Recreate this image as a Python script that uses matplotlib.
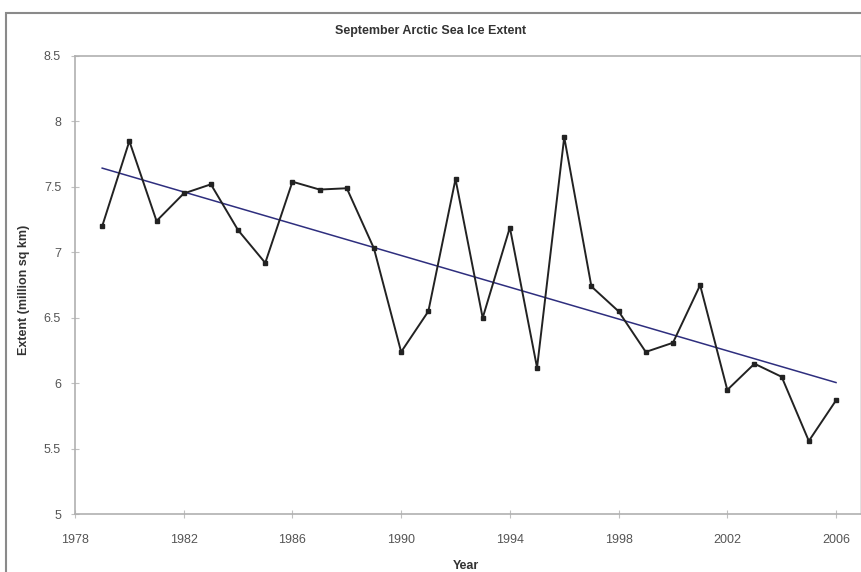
import numpy as np
import matplotlib
matplotlib.use('Agg')
import matplotlib.pyplot as plt
from matplotlib.patches import Rectangle

plt.rcParams['font.family'] = ['Liberation Sans', 'DejaVu Sans']

# September extent, million sq km
years = list(range(1979, 2007))
extent = [7.20, 7.85, 7.24, 7.45, 7.52, 7.17, 6.92, 7.54, 7.48, 7.49,
          7.03, 6.24, 6.55, 7.56, 6.50, 7.19, 6.12, 7.88, 6.74, 6.55,
          6.24, 6.31, 6.75, 5.95, 6.15, 6.05, 5.56, 5.87]
x_ticks = [1978, 1982, 1986, 1990, 1994, 1998, 2002, 2006]
y_ticks = [5, 5.5, 6, 6.5, 7, 7.5, 8, 8.5]
y_labels = ['5', '5.5', '6', '6.5', '7', '7.5', '8', '8.5']

fig = plt.figure(figsize=(8.62, 5.72), dpi=100)
ax = fig.add_axes([75 / 862, 57.7 / 572, 786 / 862, 458.3 / 572])

# linear trendline like excel
coef = np.polyfit(years, extent, 1)
trend = np.polyval(coef, years)
ax.plot(years, trend, color='#2e2e7e', lw=1.1, zorder=2)
ax.plot(years, extent, color='#222222', lw=1.4, marker='s', ms=2.8, zorder=3)

ax.set_xlim(1978, 2006 + (861 - 836) / 27.2)
ax.set_ylim(5, 8.5)
ax.set_xticks(x_ticks)
ax.set_yticks(y_ticks)
ax.set_yticklabels(y_labels)
ax.tick_params(axis='both', labelsize=9, colors='#c0c0c0', labelcolor='#555555',
               length=6, width=0.8, direction='inout')
ax.tick_params(axis='x', pad=11)
ax.tick_params(axis='y', pad=7)
for s in ax.spines.values():
    s.set_color('#b0b0b0')
    s.set_linewidth(1.2)
ax.spines['right'].set_color('#dddddd')

fig.text(0.5, 1 - 31 / 572, 'September Arctic Sea Ice Extent', ha='center', va='center',
         fontsize=9, fontweight='bold', color='#333333')
fig.text(24 / 862, 1 - 290 / 572, 'Extent (million sq km)', rotation=90, ha='center',
         va='center', fontsize=9, fontweight='bold', color='#333333')
fig.text(466 / 862, 1 - 566 / 572, 'Year', ha='center', va='center',
         fontsize=9, fontweight='bold', color='#333333')

# chart area border (cropped at right and bottom)
fig.patches.append(Rectangle((6 / 862, -0.05), 1.1, 1 - 13 / 572 + 0.05,
                             transform=fig.transFigure, fill=False,
                             ec='#8a8a8a', lw=1.5))

fig.savefig('out.png', dpi=100)
